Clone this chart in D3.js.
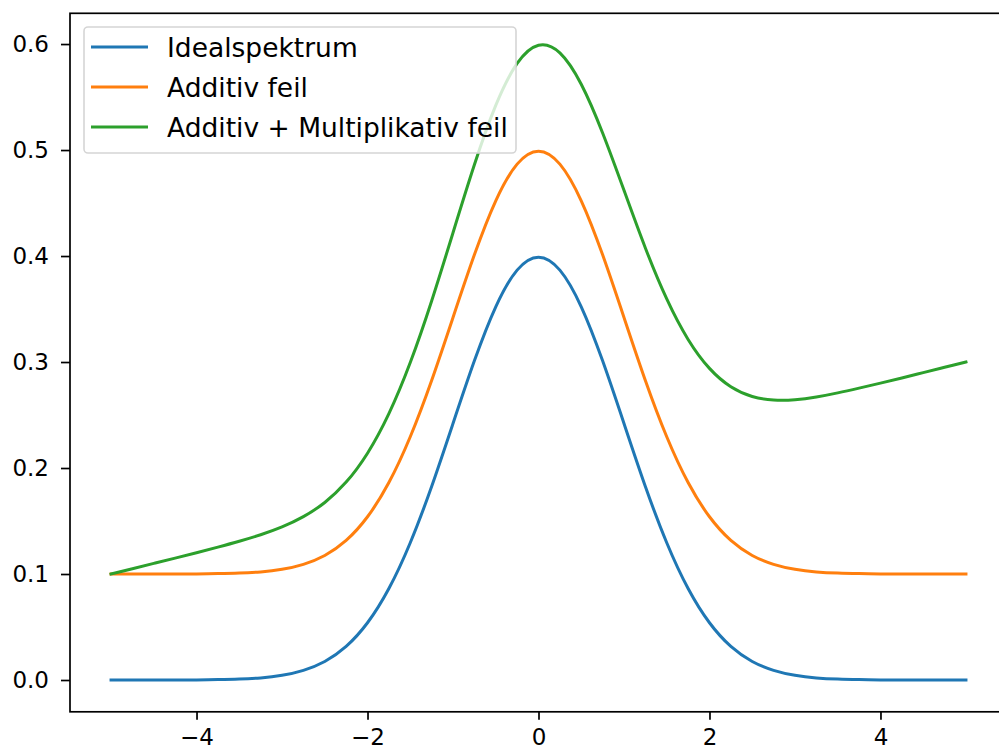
<!DOCTYPE html>
<html>
<head>
<meta charset="utf-8">
<script src="https://cdn.jsdelivr.net/npm/d3@7"></script>
<style>
  html, body { margin: 0; padding: 0; background: #fff; }
  svg { display: block; }
  text { font-family: "DejaVu Sans", sans-serif; }
</style>
</head>
<body>
<svg id="chart" width="999" height="751"></svg>
<script>
const xValues = [-5, -4.75, -4.5, -4.25, -4, -3.75, -3.5, -3.25, -3, -2.75, -2.5, -2.25, -2, -1.75, -1.5, -1.25, -1, -0.75, -0.5, -0.25, 0,
  0.25, 0.5, 0.75, 1, 1.25, 1.5, 1.75, 2, 2.25, 2.5, 2.75, 3, 3.25, 3.5, 3.75, 4, 4.25, 4.5, 4.75, 5];

const ideal = [0.0000, 0.0000, 0.0000, 0.0000, 0.0001, 0.0004, 0.0009, 0.0020, 0.0044, 0.0091, 0.0175, 0.0317, 0.0540, 0.0863, 0.1295, 0.1826, 0.2420, 0.3011, 0.3521, 0.3867, 0.3989,
  0.3867, 0.3521, 0.3011, 0.2420, 0.1826, 0.1295, 0.0863, 0.0540, 0.0317, 0.0175, 0.0091, 0.0044, 0.0020, 0.0009, 0.0004, 0.0001, 0.0000, 0.0000, 0.0000, 0.0000];

const additiv = [0.1000, 0.1000, 0.1000, 0.1000, 0.1001, 0.1004, 0.1009, 0.1020, 0.1044, 0.1091, 0.1175, 0.1317, 0.1540, 0.1863, 0.2295, 0.2826, 0.3420, 0.4011, 0.4521, 0.4867, 0.4989,
  0.4867, 0.4521, 0.4011, 0.3420, 0.2826, 0.2295, 0.1863, 0.1540, 0.1317, 0.1175, 0.1091, 0.1044, 0.1020, 0.1009, 0.1004, 0.1001, 0.1000, 0.1000, 0.1000, 0.1000];

const additivMult = [0.1000, 0.1050, 0.1100, 0.1150, 0.1201, 0.1254, 0.1309, 0.1370, 0.1444, 0.1541, 0.1675, 0.1867, 0.2140, 0.2513, 0.2995, 0.3576, 0.4220, 0.4861, 0.5421, 0.5817, 0.5989,
  0.5917, 0.5621, 0.5161, 0.4620, 0.4076, 0.3595, 0.3213, 0.2940, 0.2767, 0.2675, 0.2641, 0.2644, 0.2670, 0.2709, 0.2754, 0.2801, 0.2850, 0.2900, 0.2950, 0.3000];

const seriesNames = ["Idealspektrum", "Additiv feil", "Additiv + Multiplikativ feil"];
const seriesColors = ["#1f77b4", "#ff7f0e", "#2ca02c"];
const xTicks = [-4, -2, 0, 2, 4];
const yTicks = [0.0, 0.1, 0.2, 0.3, 0.4, 0.5, 0.6];

const svg = d3.select("#chart");
const padL = 70, padR = 1007, padT = 13.3, padB = 711.8;
const fontSize = 23;
const legendFont = 26.5;

const x = d3.scaleLinear().domain([-5.48, 5.48]).range([padL, padR]);
const y = d3.scaleLinear().domain([-0.03, 0.629]).range([padB, padT]);

const allSeries = [ideal, additiv, additivMult];
const line = d3.line()
  .x((d, i) => x(xValues[i]))
  .y(d => y(d))
  .curve(d3.curveNatural);

const plot = svg.append("g");
allSeries.forEach((s, k) => {
  plot.append("path")
    .datum(s)
    .attr("d", line)
    .attr("fill", "none")
    .attr("stroke", seriesColors[k])
    .attr("stroke-width", 3)
    .attr("stroke-linecap", "square");
});

// spines
svg.append("rect")
  .attr("x", padL).attr("y", padT)
  .attr("width", padR - padL).attr("height", padB - padT)
  .attr("fill", "none").attr("stroke", "#000").attr("stroke-width", 1.7);

// axes
const xAxis = d3.axisBottom(x).tickValues(xTicks).tickSize(8).tickPadding(9)
  .tickFormat(d => d3.format("d")(d).replace("-", "\u2212"));
const gx = svg.append("g").attr("transform", `translate(0,${padB})`).call(xAxis);
const yAxis = d3.axisLeft(y).tickValues(yTicks).tickSize(9).tickPadding(12)
  .tickFormat(d3.format(".1f"));
const gy = svg.append("g").attr("transform", `translate(${padL},0)`).call(yAxis);

[gx, gy].forEach(g => {
  g.select(".domain").remove();
  g.selectAll(".tick line").attr("stroke", "#000").attr("stroke-width", 1.7);
  g.selectAll(".tick text").attr("fill", "#000").style("font-size", fontSize + "px")
    .style("font-family", "DejaVu Sans, sans-serif");
});

// legend
const lg = svg.append("g");
lg.append("rect")
  .attr("x", 84).attr("y", 27).attr("width", 432).attr("height", 126)
  .attr("rx", 4).attr("ry", 4)
  .attr("fill", "rgba(255,255,255,0.8)")
  .attr("stroke", "#d5d5d5").attr("stroke-width", 1.6);
seriesNames.forEach((name, k) => {
  const cy = 47 + k * 40;
  lg.append("line")
    .attr("x1", 91).attr("x2", 148).attr("y1", cy).attr("y2", cy)
    .attr("stroke", seriesColors[k]).attr("stroke-width", 3);
  lg.append("text")
    .attr("x", 167).attr("y", cy)
    .attr("dy", "0.36em")
    .style("font-size", legendFont + "px")
    .attr("fill", "#000")
    .text(name);
});
</script>
</body>
</html>
